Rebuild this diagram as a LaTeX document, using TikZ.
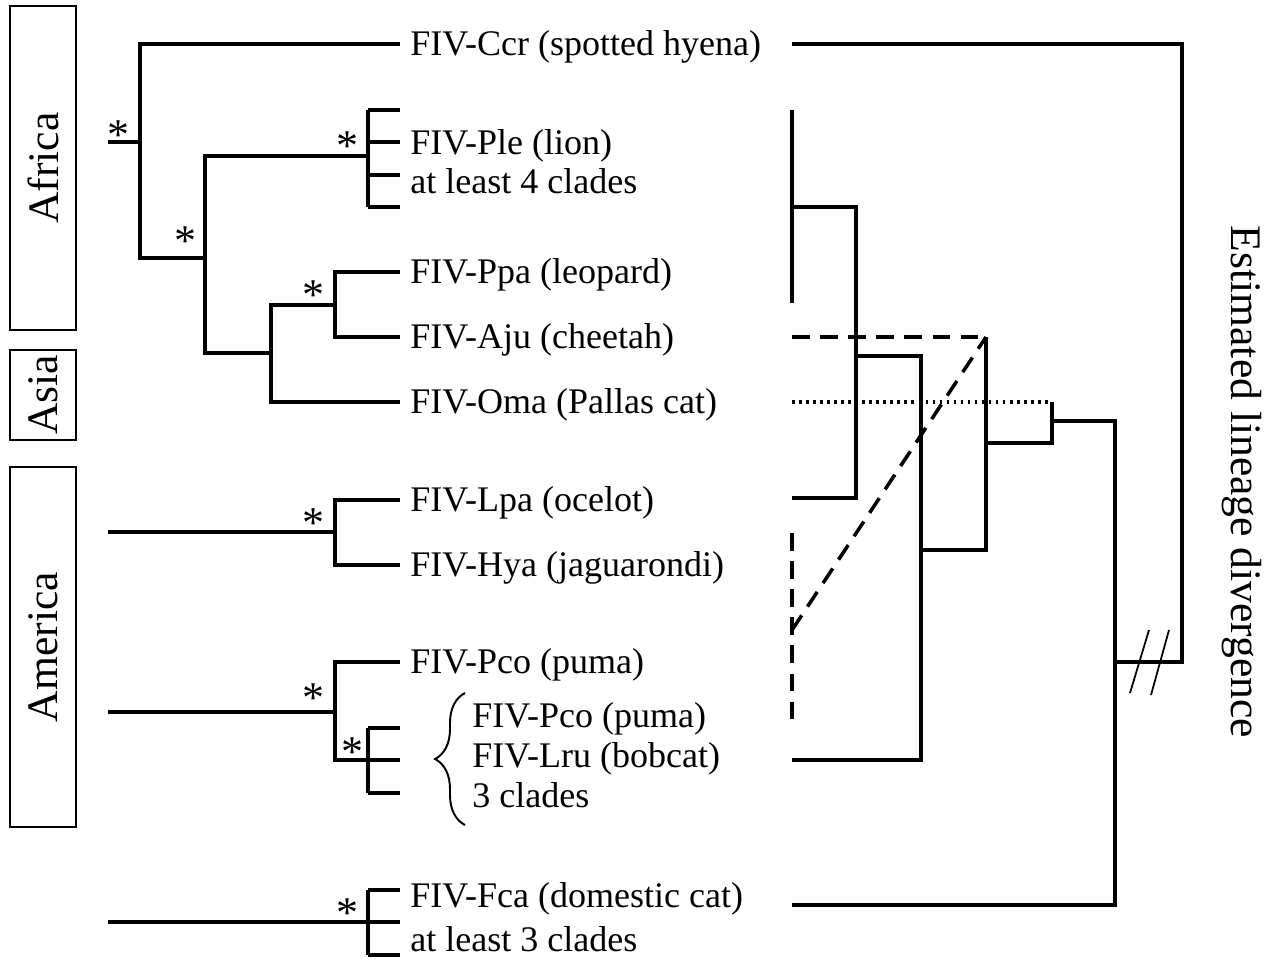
\documentclass[tikz,border=0pt]{standalone}
\usepackage{fontspec}
\setmainfont{Liberation Serif}
\usetikzlibrary{decorations.pathreplacing}

\begin{document}
\begin{tikzpicture}[x=0.02cm, y=-0.02cm,
  br/.style={line width=2pt},
  rbr/.style={line width=2pt},
  taxon/.style={anchor=base west, inner sep=0pt, font=\fontsize{20.5}{24}\selectfont},
  star/.style={anchor=base, inner sep=0pt, font=\fontsize{25}{28}\selectfont},
  region/.style={draw, line width=1.5pt, rotate=90, minimum height=1.32cm, inner sep=0pt, font=\fontsize{24.8}{28}\selectfont},
  hyb/.style={line width=2pt, dash pattern=on 10pt off 6pt},
  dots/.style={line width=2pt, dash pattern=on 1.5pt off 2.5pt}
]
\useasboundingbox (0,0) rectangle (1265,958);

% regions
\node[region, minimum width=6.48cm] (africa) at (43,168) {Africa};
\node[region, minimum width=1.8cm] (asia) at (43,395) {Asia};
\node[region, minimum width=7.2cm] (america) at (43,647) {America};

% taxa
\node[taxon] (ccr) at (410,55) {FIV-Ccr (spotted hyena)};
\node[taxon] (ple) at (410,154) {FIV-Ple (lion)};
\node[taxon] (ple4) at (410,193) {at least 4 clades};
\node[taxon] (ppa) at (410,283) {FIV-Ppa (leopard)};
\node[taxon] (aju) at (410,348) {FIV-Aju (cheetah)};
\node[taxon] (oma) at (410,413) {FIV-Oma (Pallas cat)};
\node[taxon] (lpa) at (410,511) {FIV-Lpa (ocelot)};
\node[taxon] (hya) at (410,576) {FIV-Hya (jaguarondi)};
\node[taxon] (pco) at (410,673) {FIV-Pco (puma)};
\node[taxon] (pco2) at (472,727) {FIV-Pco (puma)};
\node[taxon] (lru) at (472,767) {FIV-Lru (bobcat)};
\node[taxon] (lru3) at (472,807) {3 clades};
\node[taxon] (fca) at (410,907) {FIV-Fca (domestic cat)};
\node[taxon] (fca3) at (410,951) {at least 3 clades};

\node[anchor=base, rotate=-90, inner sep=0pt, font=\fontsize{24.8}{28}\selectfont] (axis) at (1231,482) {Estimated lineage divergence};

% support
\foreach \sx/\sy in {118/149, 347/160, 185/255, 313/309, 313/537, 313/712, 352/766, 347/927}
  \node[star] at (\sx,\sy) {*};

% left tree
\draw[br] (108,142) -- (140,142);
\draw[br] (400,44) -| (140,258) -- (205,258);
\draw[br] (368,156) -| (205,353) -- (271,353);
\draw[br] (368,110) -- (368,207);
\foreach \ty in {110,142,175,207}
  \draw[br] (368,\ty) -- (400,\ty);
\draw[br] (335,305) -| (271,402) -- (400,402);
\draw[br] (400,272) -| (335,337) -- (400,337);
\draw[br] (108,532) -- (335,532);
\draw[br] (400,500) -| (335,565) -- (400,565);
\draw[br] (108,712) -- (335,712);
\draw[br] (400,662) -| (335,760) -- (368,760);
\draw[br] (368,728) -- (368,793);
\foreach \ty in {728,760,793}
  \draw[br] (368,\ty) -- (400,\ty);
\draw[br] (108,922) -- (400,922);
\draw[br] (368,890) -- (368,955);
\foreach \ty in {890,955}
  \draw[br] (368,\ty) -- (400,\ty);
\draw[line width=1.1pt, decorate, decoration={brace, amplitude=0.6cm}] (465,825) -- (465,693);

% right tree
\draw[rbr] (792,110) -- (792,303);
\draw[rbr] (792,207) -| (856,498) -- (792,498);
\draw[rbr] (856,356) -| (921,760) -- (792,760);
\draw[rbr] (921,550) -| (986,337);
\draw[rbr] (986,443) -| (1052,402);
\draw[rbr] (1052,421) -| (1115,905) -- (792,905);
\draw[rbr] (1115,662) -| (1182,44) -- (792,44);
\draw[hyb] (792,337) -- (986,337);
\draw[hyb] (792,533) -- (792,727);
\draw[hyb] (792,630) -- (986,337);
\draw[dots] (792,402) -- (1052,402);
\draw[line width=1pt] (1130,693) -- (1149,630);
\draw[line width=1pt] (1151,695) -- (1169,630);
\end{tikzpicture}
\end{document}
